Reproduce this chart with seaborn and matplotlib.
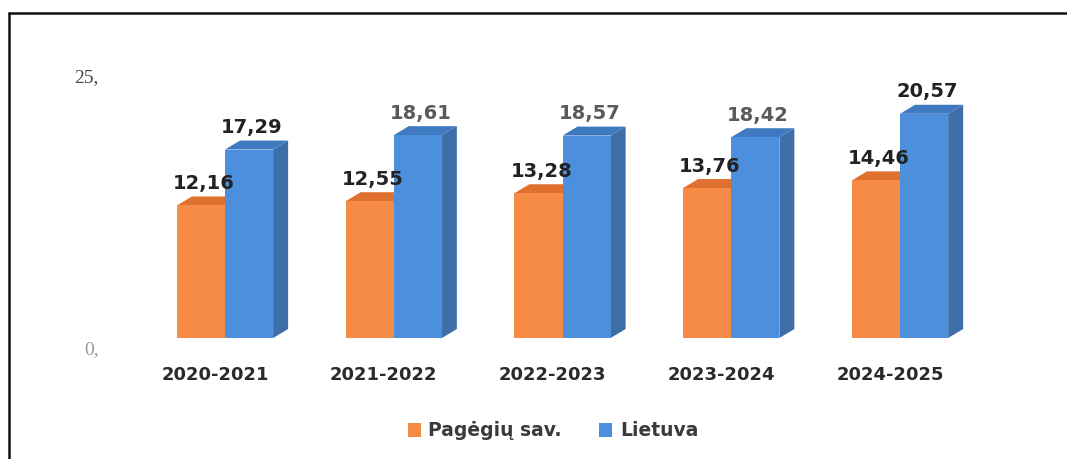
import numpy as np
import pandas as pd
import matplotlib
from matplotlib import pyplot as plt
from matplotlib.patches import Polygon, Rectangle
from matplotlib.lines import Line2D
from matplotlib.transforms import ScaledTranslation
import seaborn as sns

# Data
years = ["2020-2021", "2021-2022", "2022-2023", "2023-2024", "2024-2025"]
pagegiai = [12.16, 12.55, 13.28, 13.76, 14.46]
lietuva = [17.29, 18.61, 18.57, 18.42, 20.57]
series_names = ["Pagėgių sav.", "Lietuva"]
yticks = [0, 25]
ytick_labels = ["0,", "25,"]

df = pd.DataFrame({
    "year": years * 2,
    "value": pagegiai + lietuva,
    "series": [series_names[0]] * len(years) + [series_names[1]] * len(years),
})

front_col = {series_names[0]: "#F68B45", series_names[1]: "#4C8FDC"}
side_col = {series_names[0]: "#D8652C", series_names[1]: "#3D6EA8"}
top_col = {series_names[0]: "#E0702F", series_names[1]: "#3F79C0"}
label_col = {series_names[0]: ["#222222"] * 5,
             series_names[1]: ["#222222", "#5a5a5a", "#5a5a5a", "#5a5a5a", "#222222"]}

sns.set_style("white")
plt.rcParams['font.family'] = ['DejaVu Sans']

fig = plt.figure(figsize=(10.67, 4.59), dpi=100)
ax = fig.add_axes([0.1318, 0.2636, 0.7908, 0.5937])
sns.barplot(data=df, x="year", y="value", hue="series", palette=front_col,
            width=0.57, saturation=1, legend=False, ax=ax,
            edgecolor="none", linewidth=0)
ax.set_xlim(-0.5, len(years) - 0.5)
ax.set_ylim(0, 25)
ax.set_xlabel("")
ax.set_ylabel("")
sns.despine(ax=ax, left=True, bottom=True)

# y ticks
ax.set_yticks(yticks)
ax.set_yticklabels(ytick_labels, family="Liberation Serif", fontsize=14)
ax.tick_params(axis="y", length=0, pad=30)
for lab, c in zip(ax.get_yticklabels(), ["#9a9a9a", "#444444"]):
    lab.set_color(c)
    lab.set_transform(lab.get_transform() +
                      ScaledTranslation(0, -10 / fig.dpi, fig.dpi_scale_trans))

# x ticks
ax.tick_params(axis="x", length=0, pad=20)
for lab in ax.get_xticklabels():
    lab.set_fontsize(13)
    lab.set_fontweight("bold")
    lab.set_color("#2a2a2a")
    lab.set_transform(lab.get_transform() +
                      ScaledTranslation(-10 / fig.dpi, 0, fig.dpi_scale_trans))

# 3D faces
inv = ax.transData.inverted()
p0 = inv.transform((0, 0))
p1 = inv.transform((15, 9))
ddx, ddy = p1 - p0

for cont, name in zip(ax.containers, series_names):
    for i, bar in enumerate(cont):
        x0 = bar.get_x()
        w = bar.get_width()
        h = bar.get_height()
        x1 = x0 + w
        side = Polygon([(x1, 0), (x1 + ddx, ddy), (x1 + ddx, h + ddy), (x1, h)],
                       closed=True, facecolor=side_col[name], edgecolor="none", zorder=0.5)
        top = Polygon([(x0, h), (x0 + ddx, h + ddy), (x1 + ddx, h + ddy), (x1, h)],
                      closed=True, facecolor=top_col[name], edgecolor="none", zorder=0.5)
        ax.add_patch(side)
        ax.add_patch(top)
        ax.annotate(f"{h:.2f}".replace(".", ","), (x0 + w / 2, h),
                    xytext=(2, 9), textcoords="offset points",
                    ha="center", va="bottom", fontsize=14, fontweight="bold",
                    color=label_col[name][i], zorder=3)

# legend
handles = [Rectangle((0, 0), 1, 1, facecolor=front_col[n], edgecolor="none") for n in series_names]
leg = fig.legend(handles, series_names, loc="center", bbox_to_anchor=(553 / 1067, 1 - 431 / 459),
                 ncol=2, frameon=False, fontsize=13.5, handlelength=0.7, handleheight=0.7,
                 handletextpad=0.4, columnspacing=2.0)
for t in leg.get_texts():
    t.set_fontweight("bold")
    t.set_color("#3a3a3a")

# frame (top and left border of the scanned box)
fig.add_artist(Line2D([9 / 1067, 1.0], [1 - 13 / 459, 1 - 13 / 459], color="#111111", linewidth=1.8))
fig.add_artist(Line2D([9 / 1067, 9 / 1067], [0.0, 1 - 13 / 459], color="#111111", linewidth=1.8))

plt.savefig("out.png", dpi=100)
